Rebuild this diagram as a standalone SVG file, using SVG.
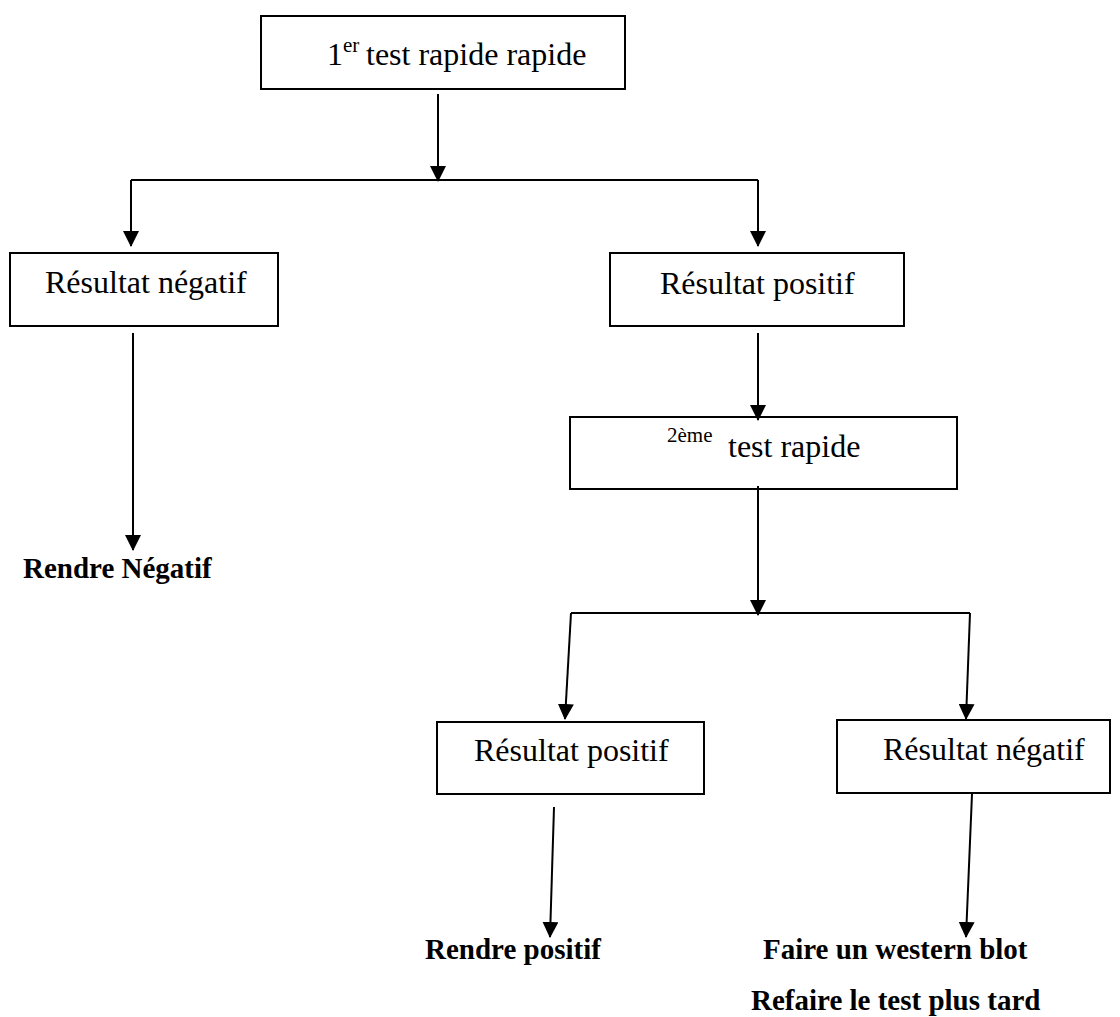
<svg xmlns="http://www.w3.org/2000/svg" width="1120" height="1017" viewBox="0 0 1120 1017">
<style>
.box{fill:#fff;stroke:#000;stroke-width:2}
.t{font-family:"Liberation Serif","Times New Roman",serif;font-size:32px;fill:#000}
.sup{font-family:"Liberation Serif","Times New Roman",serif;font-size:21px;fill:#000}
.b{font-family:"Liberation Serif","Times New Roman",serif;font-size:29px;font-weight:bold;fill:#000}
.c{fill:none;stroke:#000;stroke-width:2}
.a{marker-end:url(#arr)}
</style>
<defs>
<marker id="arr" markerUnits="userSpaceOnUse" markerWidth="16" markerHeight="16" refX="15" refY="8" orient="auto" viewBox="0 0 16 16">
<path d="M0,0 L16,8 L0,16 z" fill="#000"/>
</marker>
</defs>
<rect width="1120" height="1017" fill="#fff"/>
<g id="n1">
<rect class="box" x="261" y="16" width="364" height="73"/>
<text class="t" x="327" y="65">1</text>
<text class="sup" x="343" y="52">er</text>
<text class="t" x="366" y="65">test rapide rapide</text>
</g>
<g id="n2">
<rect class="box" x="10" y="253" width="268" height="73"/>
<text class="t" x="45" y="293">Résultat négatif</text>
</g>
<g id="n3">
<rect class="box" x="610" y="253" width="294" height="73"/>
<text class="t" x="660" y="294">Résultat positif</text>
</g>
<g id="n4">
<rect class="box" x="570" y="417" width="387" height="72"/>
<text class="sup" x="667" y="442">2ème</text>
<text class="t" x="728" y="457">test rapide</text>
</g>
<g id="n5">
<text class="b" x="23" y="578">Rendre Négatif</text>
</g>
<g id="n6">
<rect class="box" x="437" y="722" width="267" height="72"/>
<text class="t" x="474" y="761">Résultat positif</text>
</g>
<g id="n7">
<rect class="box" x="837" y="720" width="273" height="73"/>
<text class="t" x="883" y="760">Résultat négatif</text>
</g>
<g id="n8">
<text class="b" x="425" y="959">Rendre positif</text>
</g>
<g id="n9">
<text class="b" x="763" y="959">Faire un western blot</text>
<text class="b" x="751" y="1010">Refaire le test plus tard</text>
</g>
<g id="connectors">
<line class="c a" x1="438" y1="94" x2="438" y2="181"/>
<line class="c" x1="131" y1="180" x2="758" y2="180"/>
<line class="c a" x1="131" y1="180" x2="131" y2="246"/>
<line class="c a" x1="758" y1="180" x2="758" y2="246"/>
<line class="c a" x1="133" y1="333" x2="133" y2="550"/>
<line class="c a" x1="758" y1="333" x2="758" y2="420"/>
<line class="c a" x1="758" y1="486" x2="758" y2="615"/>
<line class="c" x1="571" y1="613" x2="970" y2="613"/>
<line class="c a" x1="571" y1="613" x2="565" y2="719"/>
<line class="c a" x1="970" y1="613" x2="966" y2="719"/>
<line class="c a" x1="554" y1="807" x2="550" y2="937"/>
<line class="c a" x1="972" y1="794" x2="966" y2="937"/>
</g>
</svg>
